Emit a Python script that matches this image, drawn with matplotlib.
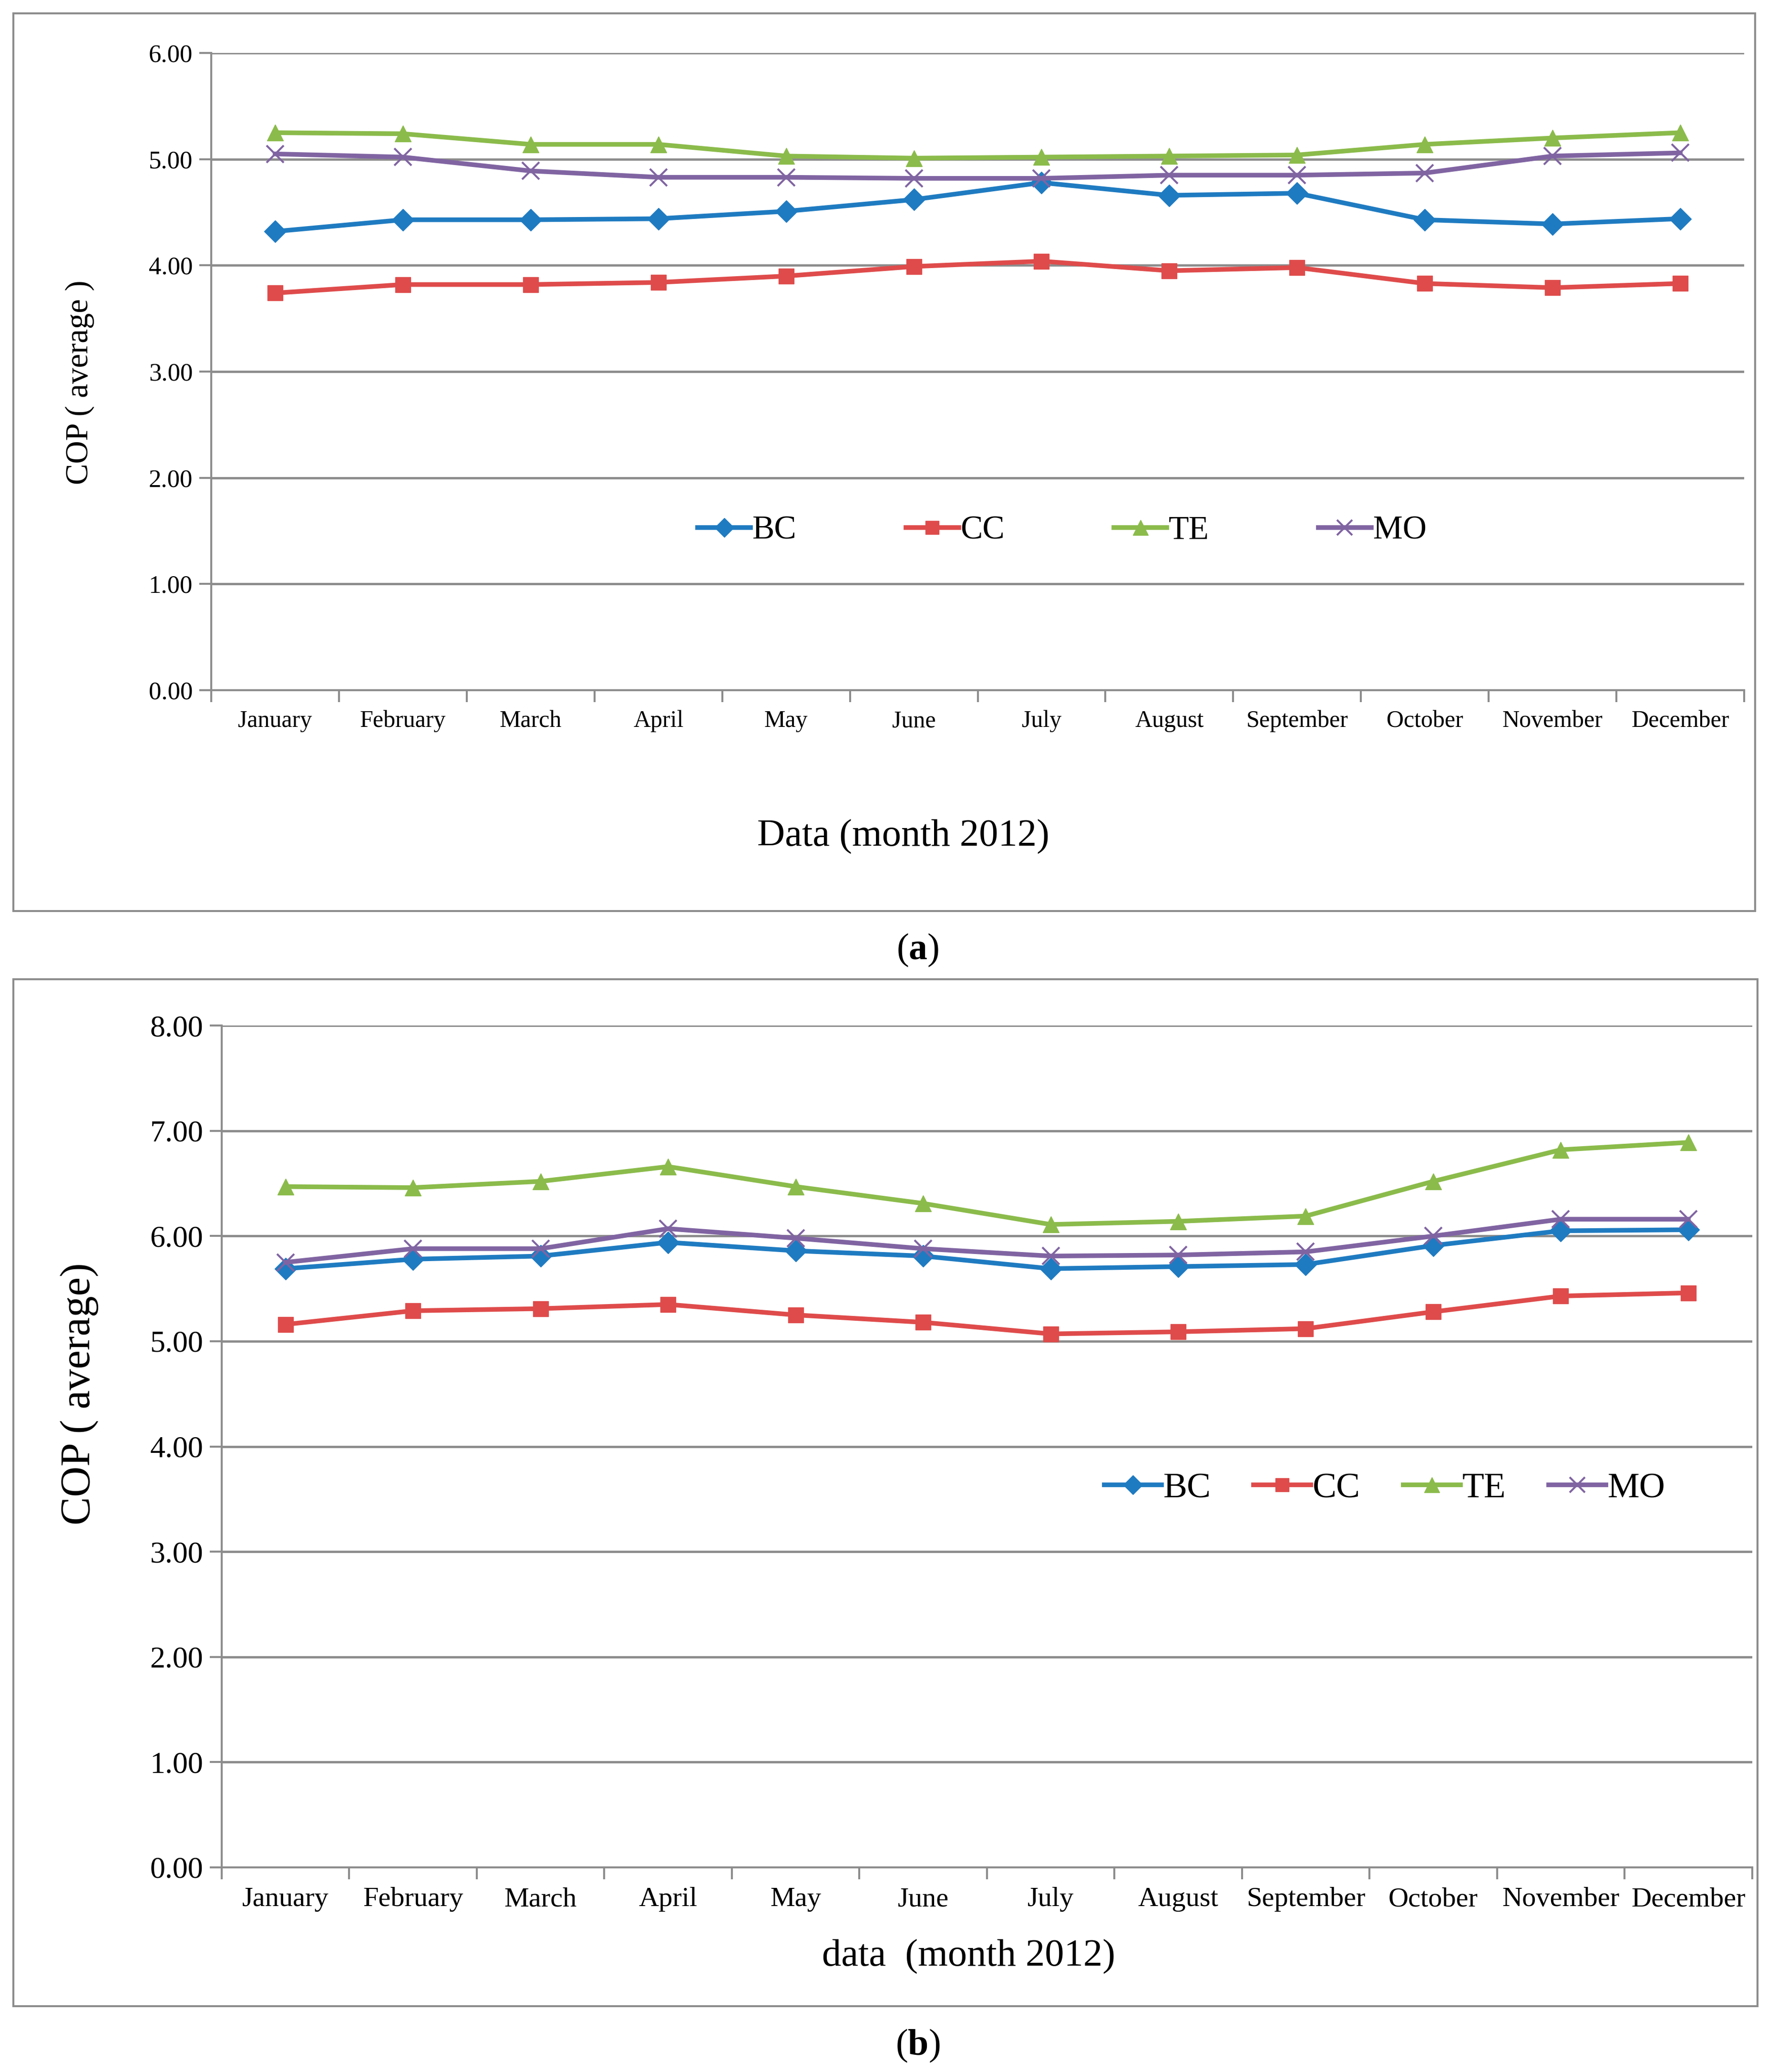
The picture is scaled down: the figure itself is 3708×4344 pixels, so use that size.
import matplotlib
matplotlib.use('Agg')
import matplotlib.pyplot as plt
import matplotlib.patches as patches
import numpy as np

plt.rcParams['font.family'] = ['Liberation Serif', 'DejaVu Serif']
plt.rcParams['mathtext.fontset'] = 'custom'
plt.rcParams['mathtext.rm'] = 'Liberation Serif'
plt.rcParams['mathtext.bf'] = 'Liberation Serif:bold'

months = ['January', 'February', 'March', 'April', 'May', 'June', 'July',
          'August', 'September', 'October', 'November', 'December']
series_names = ['BC', 'CC', 'TE', 'MO']

# panel (a)
bc_a = [4.32, 4.43, 4.43, 4.44, 4.51, 4.62, 4.78, 4.66, 4.68, 4.43, 4.39, 4.44]
cc_a = [3.74, 3.82, 3.82, 3.84, 3.90, 3.99, 4.04, 3.95, 3.98, 3.83, 3.79, 3.83]
te_a = [5.25, 5.24, 5.14, 5.14, 5.03, 5.01, 5.02, 5.03, 5.04, 5.14, 5.20, 5.25]
mo_a = [5.05, 5.02, 4.89, 4.83, 4.83, 4.82, 4.82, 4.85, 4.85, 4.87, 5.03, 5.06]

# panel (b)
bc_b = [5.69, 5.78, 5.81, 5.94, 5.86, 5.81, 5.69, 5.71, 5.73, 5.91, 6.05, 6.06]
cc_b = [5.16, 5.29, 5.31, 5.35, 5.25, 5.18, 5.07, 5.09, 5.12, 5.28, 5.43, 5.46]
te_b = [6.47, 6.46, 6.52, 6.66, 6.47, 6.31, 6.11, 6.14, 6.19, 6.52, 6.82, 6.89]
mo_b = [5.75, 5.88, 5.88, 6.07, 5.98, 5.88, 5.81, 5.82, 5.85, 6.00, 6.16, 6.16]

colors = ['#1f7bc1', '#df4b4b', '#8bbb4b', '#8064a2']
markers = ['D', 's', '^', 'x']
msizes = [23, 23, 25, 26]

fig = plt.figure(figsize=(37.08, 43.44), dpi=100)

# outer chart frames
for (x0, y0, w, h) in [(0.0076, 0.5603, 0.985, 0.4332), (0.0076, 0.0318, 0.9866, 0.4956)]:
    fig.add_artist(patches.Rectangle((x0, y0), w, h, transform=fig.transFigure,
                                     fill=False, edgecolor='#8c8c8c', linewidth=3))


def draw_panel(ax, data, ymax, ytick_fs, xtick_fs, legend_fs, legend_y, legend_x, colspace, tick_pad):
    x = np.arange(len(months))
    handles = []
    for vals, name, c, m, ms in zip(data, series_names, colors, markers, msizes):
        mew = 3 if m == 'x' else 1
        h, = ax.plot(x, vals, color=c, linewidth=7, marker=m, markersize=ms,
                     markeredgewidth=mew, label=name)
        handles.append(h)
    ax.set_xlim(-0.5, len(months) - 0.5)
    ax.set_ylim(0, ymax)
    ax.set_yticks(np.arange(0, ymax + 0.5, 1))
    ax.set_yticklabels(['%.2f' % v for v in np.arange(0, ymax + 0.5, 1)], fontsize=ytick_fs)
    ax.set_xticks(x)
    ax.set_xticklabels(months, fontsize=xtick_fs)
    ax.set_xticks(np.arange(-0.5, len(months)), minor=True)
    ax.tick_params(axis='x', which='major', length=0, pad=tick_pad)
    ax.tick_params(axis='x', which='minor', length=18, width=3, color='#8c8c8c')
    ax.tick_params(axis='y', length=18, width=3, color='#8c8c8c', pad=10)
    ax.grid(axis='y', color='#8c8c8c', linewidth=3.5)
    ax.set_axisbelow(True)
    for s in ['top', 'right']:
        ax.spines[s].set_visible(False)
    for s in ['left', 'bottom']:
        ax.spines[s].set_color('#8c8c8c')
        ax.spines[s].set_linewidth(3)
    ax.legend(handles=handles, loc='center', bbox_to_anchor=(legend_x, legend_y), ncol=4,
              frameon=False, fontsize=legend_fs, handlelength=1.6, handletextpad=0.05,
              columnspacing=colspace, markerscale=0.9)


ax1 = fig.add_axes([0.1195, 0.6669, 0.867, 0.3075])
draw_panel(ax1, [bc_a, cc_a, te_a, mo_a], 6, 38, 36, 50, 0.25, 0.555, 3.3, 30)
ax2 = fig.add_axes([0.1254, 0.0988, 0.8656, 0.4062])
draw_panel(ax2, [bc_b, cc_b, te_b, mo_b], 8, 46, 42, 54, 0.45, 0.76, 1.2, 30)

fig.text(0.045, 0.8154, 'COP ( average )', rotation=90, fontsize=48, ha='center', va='center')
fig.text(0.511, 0.5962, 'Data (month 2012)', fontsize=58, ha='center', va='center')
fig.text(0.045, 0.3273, 'COP ( average)', rotation=90, fontsize=64, ha='center', va='center')
fig.text(0.548, 0.0555, 'data  (month 2012)', fontsize=58, ha='center', va='center')

fig.text(0.519, 0.5414, r'($\mathbf{a}$)', fontsize=56, ha='center', va='center')
fig.text(0.519, 0.0127, r'($\mathbf{b}$)', fontsize=56, ha='center', va='center')

fig.savefig('out.png', dpi=100)
